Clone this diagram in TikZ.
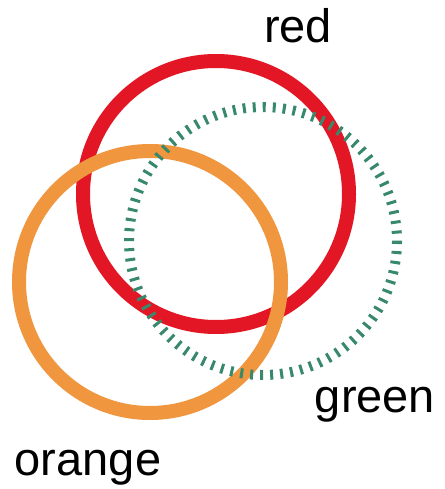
\documentclass[tikz,border=0pt]{standalone}
\usepackage{fontspec}
\setmainfont{Liberation Sans}
\definecolor{cred}{RGB}{226,22,36}
\definecolor{corange}{RGB}{240,150,62}
\definecolor{cgreen}{RGB}{56,136,108}
\begin{document}
\begin{tikzpicture}[x=1pt,y=-1pt,
  ring/.style={line width=14pt},
  lbl/.style={anchor=base,inner sep=0pt,font=\fontsize{47}{47}\selectfont}]
\useasboundingbox[fill=white] (0,0) rectangle (444,489);
\draw[ring,cred] (216,194) circle[radius=133];
\draw[ring,corange] (150,282) circle[radius=131];
\draw[line width=10pt,cgreen,dash pattern=on 3pt off 7.02pt] (263,241) circle[radius=134];
\node[lbl] (red) at (298,43) {red};
\node[lbl] (green) at (375,412) {green};
\node[lbl] (orange) at (88,475) {orange};
\end{tikzpicture}
\end{document}
